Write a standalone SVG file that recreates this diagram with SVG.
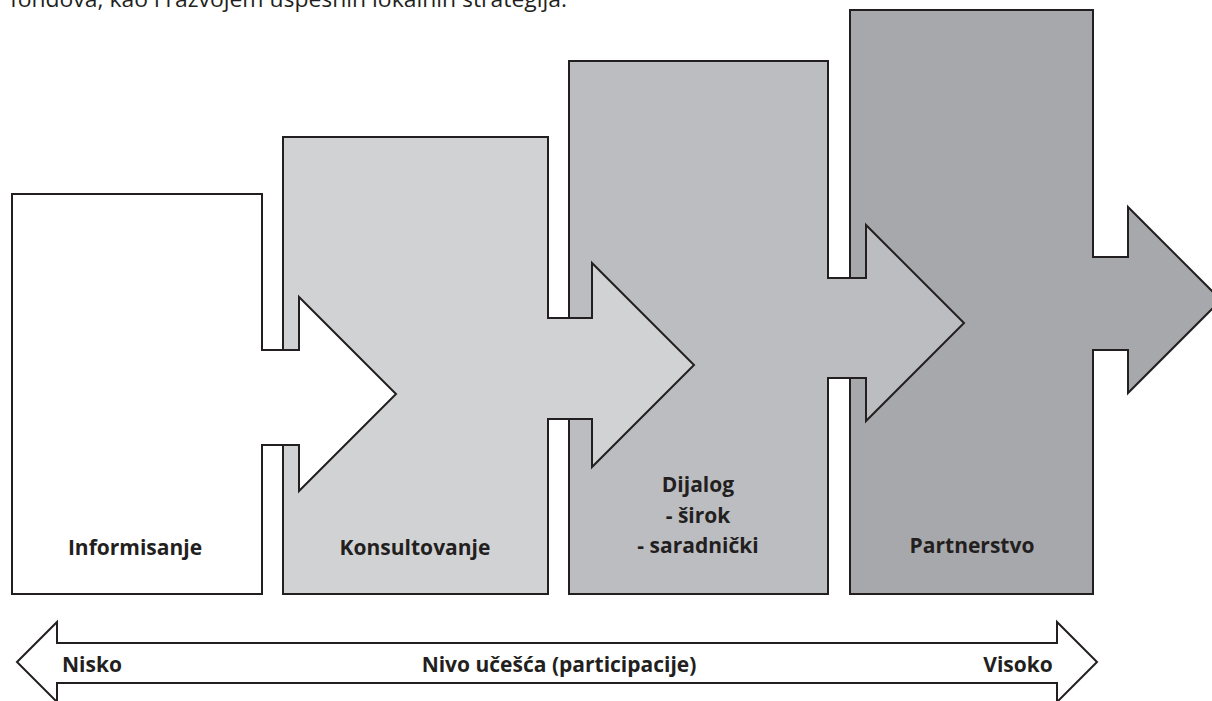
<svg xmlns="http://www.w3.org/2000/svg" width="1212" height="701" viewBox="0 0 1212 701">
  <style>
    .shape { stroke: #231f20; stroke-width: 2; stroke-linejoin: miter; }
    .s1 { fill: #ffffff; }
    .s2 { fill: #d1d2d4; }
    .s3 { fill: #bcbdc1; }
    .s4 { fill: #a7a8ac; }
    .lbl { font-family: "Open Sans", "Liberation Sans", sans-serif; font-weight: 700; font-size: 21px; fill: #231f20; text-anchor: middle; }
    .body { font-family: "Open Sans", "Liberation Sans", sans-serif; font-size: 22px; fill: #231f20; }
  </style>
  <rect x="0" y="0" width="1212" height="701" fill="#ffffff"/>
  <text class="body" x="10" y="7" textLength="557" lengthAdjust="spacingAndGlyphs">fondova, kao i razvojem uspešnih lokalnih strategija.</text>

  <g id="node-partnerstvo">
    <path class="shape s4" d="M850,10 H1093 V257 H1128 V207 L1221,300 L1128,393 V350 H1093 V594 H850 Z"/>
    <text class="lbl" x="972" y="553">Partnerstvo</text>
  </g>
  <g id="node-dijalog">
    <path class="shape s3" d="M569,61 H828 V278 H866 V225 L964,323 L866,421 V378 H828 V594 H569 Z"/>
    <text class="lbl" x="698" y="492">Dijalog</text>
    <text class="lbl" x="698" y="523">- širok</text>
    <text class="lbl" x="698" y="553">- saradnički</text>
  </g>
  <g id="node-konsultovanje">
    <path class="shape s2" d="M283,137 H548 V318 H592 V263 L694,365 L592,467 V419 H548 V594 H283 Z"/>
    <text class="lbl" x="415" y="555">Konsultovanje</text>
  </g>
  <g id="node-informisanje">
    <path class="shape s1" d="M12,194 H262 V350 H299 V297 L396,394 L299,491 V445 H262 V594 H12 Z"/>
    <text class="lbl" x="135" y="555">Informisanje</text>
  </g>

  <g id="axis">
    <path class="shape s1" d="M17,662 L57,622 V643 H1057 V622 L1097,662 L1057,702 V683 H57 V702 Z"/>
    <text class="lbl" x="92" y="672">Nisko</text>
    <text class="lbl" x="559" y="672">Nivo učešća (participacije)</text>
    <text class="lbl" x="1018" y="672">Visoko</text>
  </g>
  <g id="connectors"/>
</svg>
